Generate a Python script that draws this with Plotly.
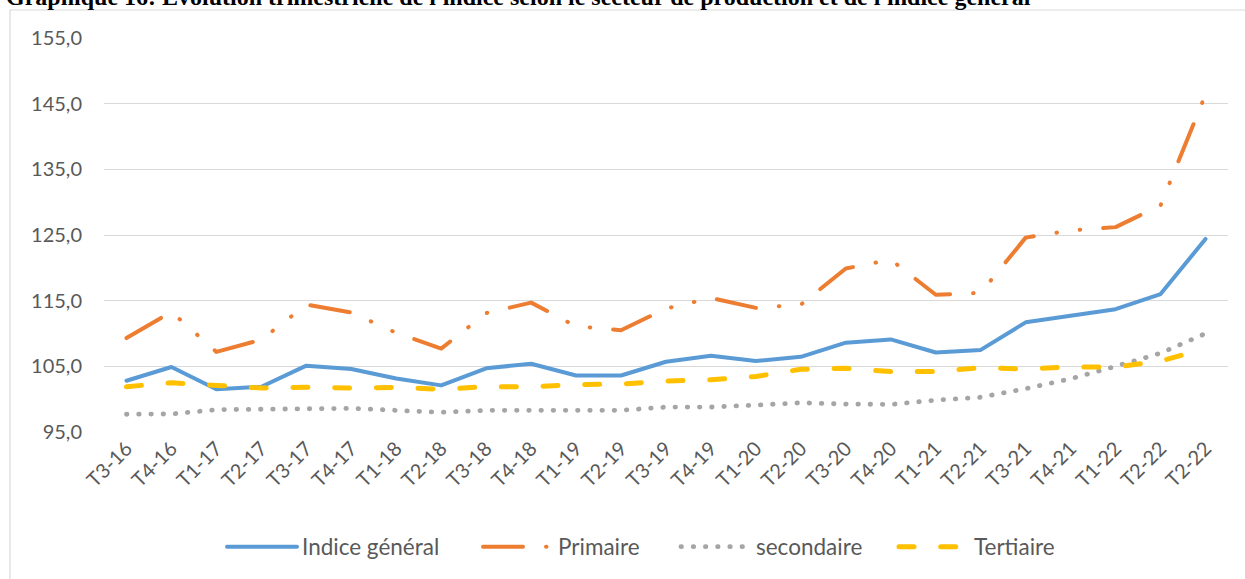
import plotly.graph_objects as go

# ---------------- data ----------------
categories = ["T3-16", "T4-16", "T1-17", "T2-17", "T3-17", "T4-17", "T1-18", "T2-18",
              "T3-18", "T4-18", "T1-19", "T2-19", "T3-19", "T4-19", "T1-20", "T2-20",
              "T3-20", "T4-20", "T1-21", "T2-21", "T3-21", "T4-21", "T1-22", "T2-22",
              "T2-22"]

indice_general = [102.8, 104.9, 101.5, 101.9, 105.1, 104.6, 103.15, 102.1, 104.7, 105.4,
                  103.6, 103.6, 105.7, 106.6, 105.8, 106.45, 108.6, 109.1, 107.1, 107.5,
                  111.7, 112.65, 113.7, 116.0, 124.4]
primaire = [109.3, 113.3, 107.2, 109.05, 114.4, 113.2, 110.1, 107.7, 113.1, 114.7,
            111.1, 110.5, 113.8, 115.4, 113.9, 114.4, 119.9, 121.25, 115.9, 116.2,
            124.6, 125.7, 126.2, 129.5, 146.4]
secondaire = [97.7, 97.75, 98.4, 98.45, 98.45, 98.6, 98.3, 98.0, 98.3, 98.3,
              98.3, 98.3, 98.8, 98.8, 99.1, 99.45, 99.25, 99.2, 99.85, 100.3,
              101.6, 103.1, 105.0, 107.0, 110.0]
tertiaire = [101.9, 102.5, 102.1, 101.7, 101.8, 101.7, 101.8, 101.5, 101.9, 101.9,
             102.2, 102.3, 102.75, 102.95, 103.45, 104.55, 104.7, 104.2, 104.2, 104.8,
             104.6, 104.9, 104.9, 105.8, 107.7]

series_names = ["Indice général", "Primaire", "secondaire", "Tertiaire"]
y_ticks = [95, 105, 115, 125, 135, 145, 155]
title_text = ("Graphique 16: Evolution trimestrielle de l'indice selon le secteur "
              "de production et de l'indice général")

# ---------------- styles ----------------
FONT = "Lato"
TXT = "#595959"
x_pos = list(range(len(categories)))

W, H = 1245, 579
ML, MR, MT, MB = 104, 17, 38, 147
PW, PH = W - ML - MR, H - MT - MB


def px_x(px):
    return (px - ML) / PW


def px_y(py):
    return (H - MB - py) / PH


fig = go.Figure()
styles = [
    dict(color="#5B9BD5", width=4, dash="solid"),
    dict(color="#ED7D31", width=4, dash="40px,23px,0.5px,23px,0.5px,23px"),
    dict(color="#A5A5A5", width=4.8, dash="0.5px,11.7px"),
    dict(color="#FFC000", width=5, dash="15px,26.7px"),
]
legend_ids = ["legend", "legend2", "legend3", "legend4"]
legend_item_left = [222, 478, 676, 894]   # pixel position of each legend entry

for name, vals, st, lg in zip(series_names, [indice_general, primaire, secondaire, tertiaire],
                              styles, legend_ids):
    fig.add_trace(go.Scatter(x=x_pos, y=vals, name=name, mode="lines", line=st,
                             legend=lg, hoverinfo="skip"))

legend_common = dict(orientation="h", xanchor="left", y=px_y(547), yanchor="middle",
                     font=dict(family=FONT, size=22.5, color=TXT), itemwidth=70,
                     bgcolor="rgba(0,0,0,0)", borderwidth=0)
legend_layout = {lg: dict(legend_common, x=px_x(xl)) for lg, xl in zip(legend_ids, legend_item_left)}

fig.update_layout(
    width=W, height=H,
    margin=dict(l=ML, r=MR, t=MT, b=MB, autoexpand=False),
    paper_bgcolor="white", plot_bgcolor="white",
    separators=", ",
    font=dict(family=FONT, size=20, color=TXT),
    showlegend=True,
    xaxis=dict(range=[-0.5, len(categories) - 0.5], tickvals=x_pos, ticktext=categories,
               tickangle=-45, showgrid=False, zeroline=False, showline=False,
               ticks="", automargin=False,
               tickfont=dict(family=FONT, size=20, color=TXT)),
    yaxis=dict(range=[95, 155], tickvals=y_ticks, tickformat=".1f",
               showgrid=True, gridcolor="#D9D9D9", gridwidth=1.4,
               zeroline=False, showline=False, ticks="", automargin=False,
               ticklabelstandoff=21,
               tickfont=dict(family=FONT, size=20, color=TXT)),
    annotations=[dict(text="<b>" + title_text + "</b>", xref="paper", yref="paper",
                      x=px_x(4), y=px_y(-3), xanchor="left", yanchor="middle",
                      showarrow=False,
                      font=dict(family="Liberation Serif", size=24, color="black"))],
    shapes=[dict(type="rect", xref="paper", yref="paper",
                 x0=px_x(10), x1=px_x(W + 20), y0=px_y(H + 20), y1=px_y(10),
                 line=dict(color="#D9D9D9", width=1.2), fillcolor="rgba(0,0,0,0)",
                 layer="below")],
    **legend_layout,
)

post = ("var s=document.createElement('style');"
        "s.innerHTML='html,body{margin:0;padding:0;}"
        ".js-line{stroke-linecap:round !important;stroke-linejoin:round !important;}';"
        "document.head.appendChild(s);")
fig.write_html("out.html", post_script=post, config={"displayModeBar": False})
